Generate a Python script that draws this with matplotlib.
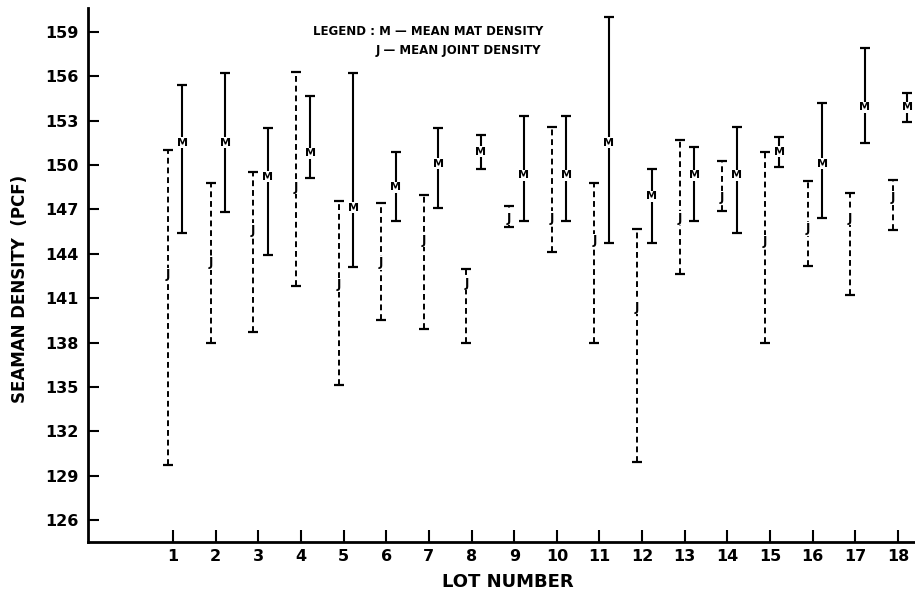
import matplotlib
matplotlib.use('Agg')
import matplotlib.pyplot as plt
import numpy as np

lots = list(range(1, 19))
j_mean = [142.6, 143.4, 145.6, 148.5, 141.9, 143.4, 144.9, 142.0, 146.4, 146.4,
          144.9, 140.4, 146.4, 147.8, 144.8, 145.7, 146.4, 147.8]
j_low = [129.7, 138.0, 138.7, 141.8, 135.1, 139.5, 138.9, 138.0, 145.8, 144.1,
         138.0, 129.9, 142.6, 146.9, 138.0, 143.2, 141.2, 145.6]
j_high = [151.0, 148.8, 149.5, 156.3, 147.6, 147.4, 148.0, 143.0, 147.2, 152.6,
          148.8, 145.7, 151.7, 150.3, 150.9, 148.9, 148.1, 149.0]
m_mean = [151.5, 151.5, 149.2, 150.8, 147.1, 148.5, 150.1, 150.9, 149.3, 149.3,
          151.5, 147.9, 149.3, 149.3, 150.9, 150.1, 153.9, 153.9]
m_low = [145.4, 146.8, 143.9, 149.1, 143.1, 146.2, 147.1, 149.7, 146.2, 146.2,
         144.7, 144.7, 146.2, 145.4, 149.9, 146.4, 151.5, 152.9]
m_high = [155.4, 156.2, 152.5, 154.7, 156.2, 150.9, 152.5, 152.0, 153.3, 153.3,
          160.0, 149.7, 151.2, 152.6, 151.9, 154.2, 157.9, 154.9]
y_ticks = list(range(126, 160, 3))

fig = plt.figure(figsize=(9.15, 5.9), dpi=100)
ax = fig.add_axes([0.096, 0.081, 0.904, 0.905])

x = np.array(lots, dtype=float)
xj = x - 0.12
xm = x + 0.22

ax.vlines(xj, j_low, j_high, colors='black', linestyles=(0, (3, 2)), lw=1.4)
ax.vlines(xm, m_low, m_high, colors='black', lw=1.5)
for xs, arr in [(xj, j_low), (xj, j_high), (xm, m_low), (xm, m_high)]:
    ax.plot(xs, arr, ls='none', marker='_', ms=7, mew=1.6, color='black')

for xi, v in zip(xj, j_mean):
    ax.text(xi, v, 'J', ha='center', va='center', fontsize=8.5, fontweight='bold',
            bbox=dict(fc='white', ec='none', pad=0.3))
for xi, v in zip(xm, m_mean):
    ax.text(xi, v, 'M', ha='center', va='center', fontsize=8, fontweight='bold',
            bbox=dict(fc='white', ec='none', pad=0.4))

ax.set_xlim(-1.0, 18.4)
ax.set_ylim(124.5, 160.6)
ax.set_xticks(lots)
ax.set_xticklabels([str(v) for v in lots], fontsize=11.5, fontweight='bold')
ax.set_yticks(y_ticks)
ax.set_yticklabels([str(v) for v in y_ticks], fontsize=11.5, fontweight='bold')
ax.tick_params(axis='x', direction='in', length=9, width=1.5, pad=5)
ax.tick_params(axis='y', direction='in', length=8, width=1.5, pad=7)

for s in ['top', 'right']:
    ax.spines[s].set_visible(False)
for s in ['left', 'bottom']:
    ax.spines[s].set_linewidth(2)

ax.set_xlabel('LOT NUMBER', fontsize=13, fontweight='bold')
ax.xaxis.set_label_coords(0.508, -0.057)
ax.set_ylabel('SEAMAN DENSITY  (PCF)', fontsize=12, fontweight='bold')
ax.yaxis.set_label_coords(-0.071, 0.474)

fig.text(0.342, 0.946, 'LEGEND : M — MEAN MAT DENSITY', fontsize=8.5,
         fontweight='bold', va='center', ha='left')
fig.text(0.41, 0.915, 'J — MEAN JOINT DENSITY', fontsize=8.5,
         fontweight='bold', va='center', ha='left')

fig.savefig('out.png', dpi=100)
